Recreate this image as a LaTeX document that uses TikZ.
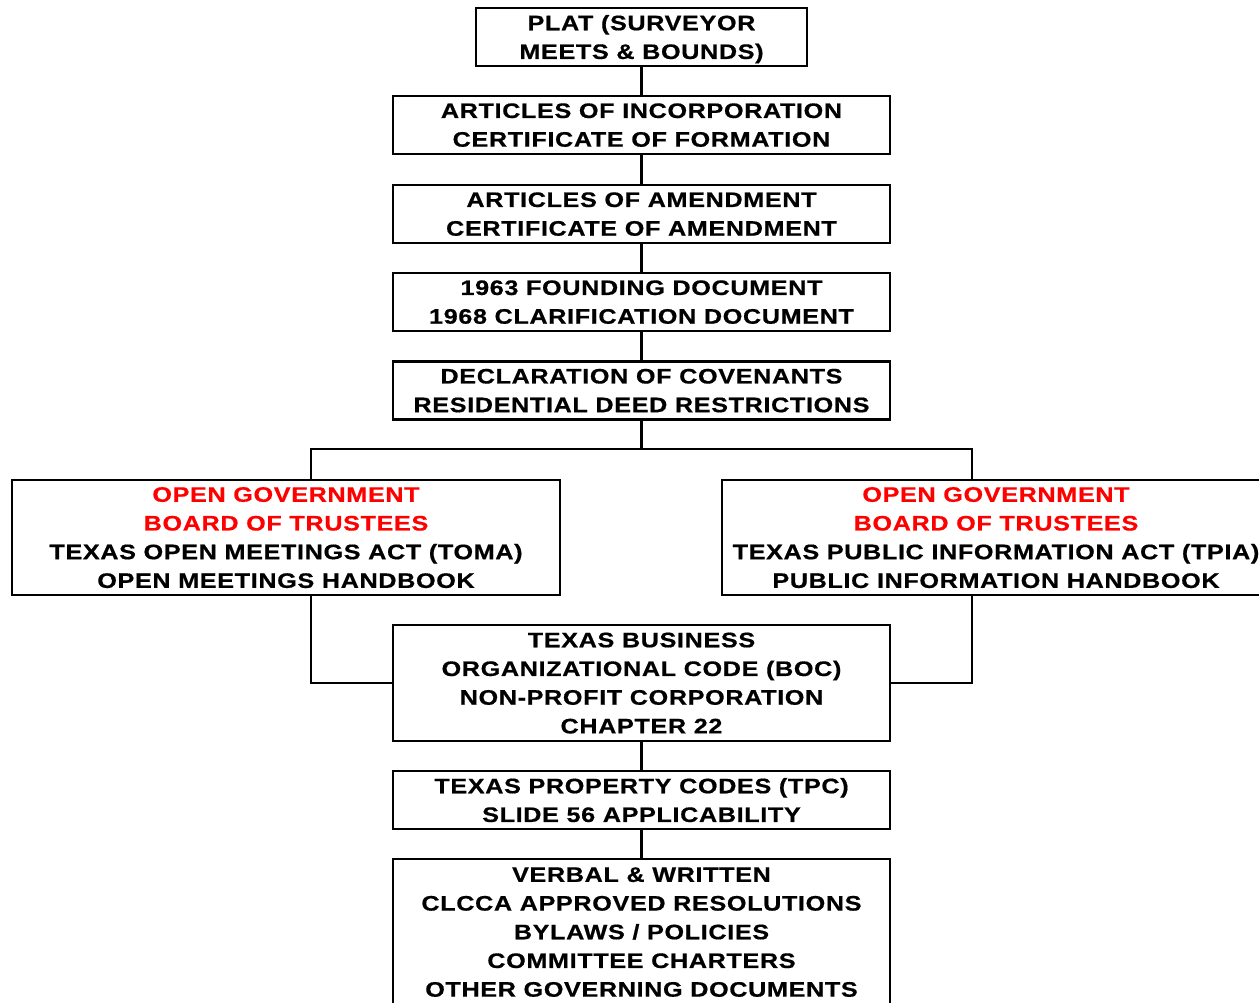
\documentclass[tikz,border=0pt]{standalone}
\usepackage{fontspec}
\setmainfont{Liberation Sans}[LetterSpace=3,FakeStretch=1.2,FakeBold=0.6]
\begin{document}
\begin{tikzpicture}[x=1pt,y=-1pt,
  docbox/.style={draw=black, line width=2.5pt, inner sep=0pt, align=center, text depth=0pt,
    font=\bfseries\fontsize{21}{28.7}\selectfont},
  link/.style={draw=black, line width=2.5pt}]
\useasboundingbox (0,0) rectangle (1259,1002);
% main chain
\node[docbox, minimum width=331, minimum height=58] (plat) at (641.5,37) {PLAT (SURVEYOR\\MEETS \& BOUNDS)};
\node[docbox, minimum width=497, minimum height=58] (incorp) at (641.5,125) {ARTICLES OF INCORPORATION\\CERTIFICATE OF FORMATION};
\node[docbox, minimum width=497, minimum height=58] (amend) at (641.5,214) {ARTICLES OF AMENDMENT\\CERTIFICATE OF AMENDMENT};
\node[docbox, minimum width=497, minimum height=58] (found) at (641.5,302) {1963 FOUNDING DOCUMENT\\1968 CLARIFICATION DOCUMENT};
\node[docbox, minimum width=497, minimum height=58] (decl) at (641.5,390.5) {DECLARATION OF COVENANTS\\RESIDENTIAL DEED RESTRICTIONS};
% open government
\node[docbox, minimum width=548, minimum height=115] (toma) at (286,537.5) {\textcolor{red}{OPEN GOVERNMENT}\\\textcolor{red}{BOARD OF TRUSTEES}\\TEXAS OPEN MEETINGS ACT (TOMA)\\OPEN MEETINGS HANDBOOK};
\node[docbox, minimum width=548, minimum height=115] (tpia) at (996,537.5) {\textcolor{red}{OPEN GOVERNMENT}\\\textcolor{red}{BOARD OF TRUSTEES}\\TEXAS PUBLIC INFORMATION ACT (TPIA)\\PUBLIC INFORMATION HANDBOOK};
% codes
\node[docbox, minimum width=497, minimum height=116] (boc) at (641.5,683) {TEXAS BUSINESS\\ORGANIZATIONAL CODE (BOC)\\NON-PROFIT CORPORATION\\CHAPTER 22};
\node[docbox, minimum width=497, minimum height=58] (tpc) at (641.5,800) {TEXAS PROPERTY CODES (TPC)\\SLIDE 56 APPLICABILITY};
\node[docbox, minimum width=497, minimum height=146] (govdocs) at (641.5,932) {VERBAL \& WRITTEN\\CLCCA APPROVED RESOLUTIONS\\BYLAWS / POLICIES\\COMMITTEE CHARTERS\\OTHER GOVERNING DOCUMENTS};
\coordinate (leftdrop) at (311,449);
\coordinate (rightdrop) at (972,449);
\draw[link] (plat) -- (incorp);
\draw[link] (incorp) -- (amend);
\draw[link] (amend) -- (found);
\draw[link] (found) -- (decl);
\draw[link] (decl) -- (decl |- leftdrop);
\draw[link] (leftdrop |- toma.north) -- (leftdrop) -- (rightdrop) -- (rightdrop |- tpia.north);
\draw[link] (leftdrop |- toma.south) |- (boc.west);
\draw[link] (rightdrop |- tpia.south) |- (boc.east);
\draw[link] (boc) -- (tpc);
\draw[link] (tpc) -- (govdocs);
\end{tikzpicture}
\end{document}
